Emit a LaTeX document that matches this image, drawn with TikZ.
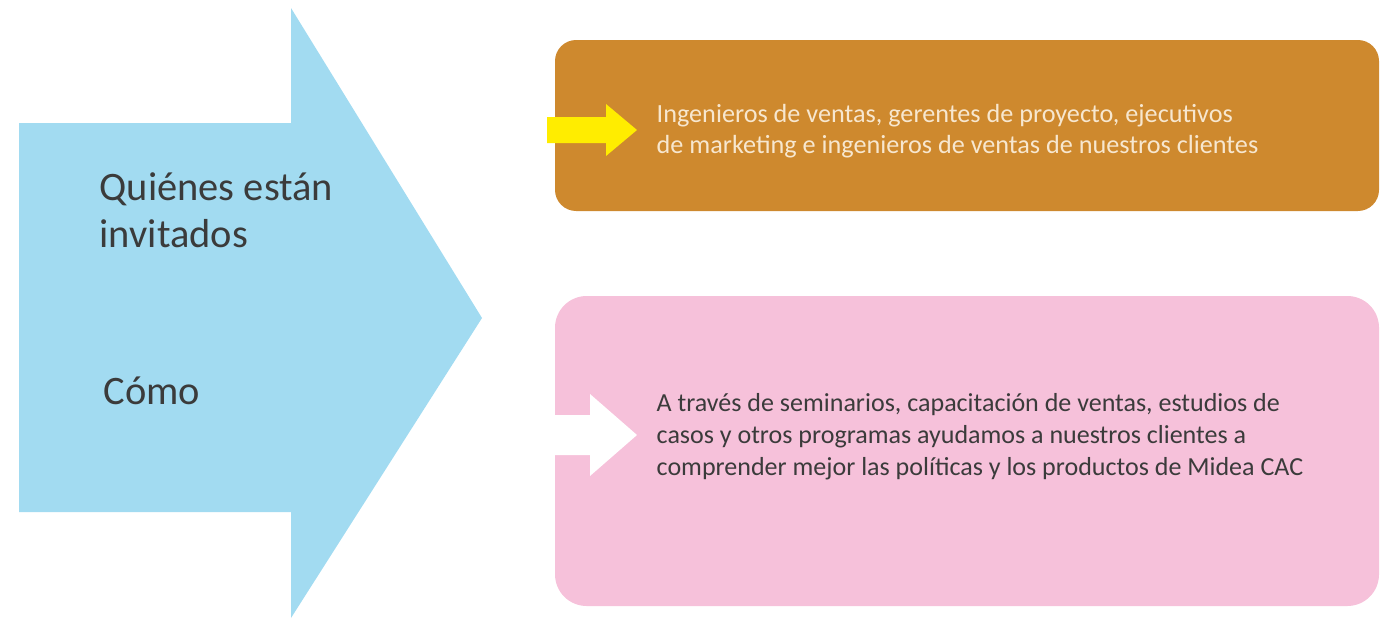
\documentclass[tikz,border=0pt]{standalone}
\usepackage{fontspec}
\setmainfont{Carlito}
\definecolor{cielo}{HTML}{A2DBF1}
\definecolor{ocre}{HTML}{CE892E}
\definecolor{rosa}{HTML}{F6C1DA}
\definecolor{amarillo}{HTML}{FFED00}
\definecolor{crema}{HTML}{F7E7CF}
\definecolor{gristxt}{HTML}{3B3B3B}
\begin{document}
\begin{tikzpicture}[x=0.01cm,y=-0.01cm]
\pgfmathsetmacro{\ktxtx}{656}
\pgfmathsetmacro{\kboxl}{555}
\pgfmathsetmacro{\kboxr}{1379}
\useasboundingbox(0,0)rectangle(1382,618);
% big arrow
\fill[cielo](19,123)--(291,123)--(291,8)--(482,318)--(291,618)--(291,512)--(19,512)--cycle;
\node[anchor=base west,inner sep=0pt,text=gristxt,font=\fontsize{11.5}{13}\selectfont](quien1)at(99,200){Quiénes están};
\node[anchor=base west,inner sep=0pt,text=gristxt,font=\fontsize{11.5}{13}\selectfont](quien2)at(99,247){invitados};
\node[anchor=base west,inner sep=0pt,text=gristxt,font=\fontsize{11.5}{13}\selectfont](como)at(103,404){Cómo};
% boxes
\fill[ocre,rounded corners=6pt](\kboxl,40)rectangle(\kboxr,211);
\fill[rosa,rounded corners=9pt](\kboxl,296)rectangle(\kboxr,606);
% small arrows
\fill[amarillo](547,117)--(606,117)--(606,104)--(637,130)--(606,156)--(606,143)--(547,143)--cycle;
\fill[white](555,415)--(590,415)--(590,394)--(637,435)--(590,476)--(590,455)--(555,455)--cycle;
% texts
\foreach \ky/\ln in {122/{Ingenieros de ventas, gerentes de proyecto, ejecutivos},153/{de marketing e ingenieros de ventas de nuestros clientes}}{\node[anchor=base west,inner sep=0pt,text=crema,font=\fontsize{7.45}{8}\selectfont]at(\ktxtx,\ky){\ln};}
\foreach \ky/\ln in {411/{A través de seminarios, capacitación de ventas, estudios de},443/{casos y otros programas ayudamos a nuestros clientes a},475/{comprender mejor las políticas y los productos de Midea CAC}}{\node[anchor=base west,inner sep=0pt,text=gristxt,font=\fontsize{7.4}{8}\selectfont]at(\ktxtx,\ky){\ln};}
\end{tikzpicture}
\end{document}
